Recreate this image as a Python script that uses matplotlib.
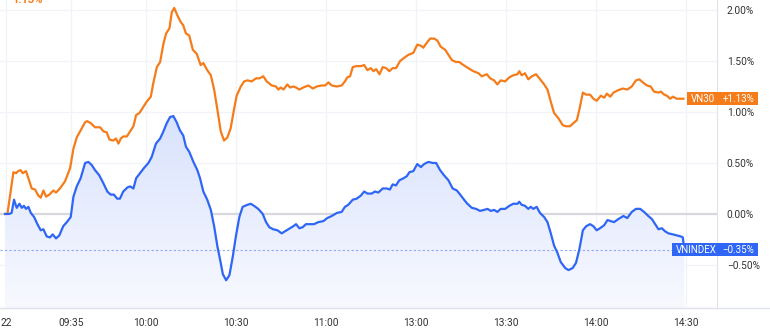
import numpy as np
import matplotlib
matplotlib.use("Agg")
import matplotlib.pyplot as plt
import matplotlib.transforms as mtransforms
from matplotlib.colors import LinearSegmentedColormap
from matplotlib.patches import Rectangle
from matplotlib.lines import Line2D

# x values are trading minutes since 09:15 (lunch break 11:30-13:00 removed)
vn30_t = [-2, -1.2, 0.8, 1.7, 2.4, 3.2, 3.9, 5.0, 5.8, 6.9,
          8.0, 9.1, 9.9, 10.8, 11.7, 12.8, 14.1, 15.0, 16.3, 18.0,
          19.7, 20.8, 21.9, 23.2, 24.7, 25.4, 26.6, 28.0, 29.7, 30.8,
          31.9, 32.8, 34.1, 35.0, 35.8, 36.6, 37.4, 38.6, 39.7, 40.8,
          41.7, 42.8, 43.9, 45.2, 46.6, 47.4, 48.6, 49.7, 50.8, 51.7,
          52.8, 53.6, 54.4, 55.4, 56.6, 57.4, 58.3, 59.4, 60.6, 61.9,
          63.2, 64.1, 65.4, 66.6, 67.7, 68.8, 69.9, 71.0, 72.1, 73.2,
          74.3, 75.2, 76.6, 77.7, 78.8, 80.2, 81.7, 82.8, 84.1, 85.2,
          86.9, 88.3, 89.1, 89.9, 90.8, 92.1, 93.0, 94.1, 95.0, 96.1,
          97.4, 99.1, 100.6, 101.9, 103.6, 104.7, 105.8, 106.9, 108.6, 110.2,
          111.3, 112.1, 113.0, 113.9, 115.2, 116.6, 117.7, 118.8, 119.9, 120.8,
          121.7, 122.8, 123.9, 125.0, 126.1, 127.2, 128.3, 129.7, 131.0, 132.4,
          134.1, 135.4, 136.6, 137.4, 138.6, 139.7, 141.0, 142.1, 143.2, 144.7,
          145.8, 146.9, 148.3, 149.4, 150.8, 152.4, 154.1, 155.8, 156.9, 158.6,
          159.7, 161.0, 162.1, 163.2, 164.7, 166.1, 167.4, 168.8, 169.4, 170.2,
          171.3, 172.4, 173.6, 175.0, 176.1, 177.7, 178.8, 179.9, 181.0, 182.4,
          183.9, 185.0, 186.3, 187.4, 188.6, 189.4, 190.6, 191.7, 193.0, 194.1,
          195.2, 196.6, 197.7, 198.6, 199.7, 200.8, 202.1, 203.9, 205.4, 206.9,
          208.3, 209.4, 210.6, 211.9, 213.2, 214.3, 215.8, 216.6, 217.7, 218.6,
          219.7, 220.6, 221.9, 223.6, 224.1]
vn30_pct = [0.00, 0.00, 0.41, 0.40, 0.42, 0.43, 0.40, 0.42, 0.35, 0.25,
            0.24, 0.18, 0.16, 0.23, 0.17, 0.19, 0.23, 0.21, 0.25, 0.32,
            0.45, 0.64, 0.75, 0.82, 0.90, 0.91, 0.89, 0.85, 0.85, 0.81,
            0.80, 0.73, 0.72, 0.74, 0.69, 0.74, 0.76, 0.76, 0.81, 0.86,
            0.97, 0.99, 1.04, 1.10, 1.15, 1.28, 1.44, 1.49, 1.67, 1.77,
            1.82, 1.98, 2.02, 1.95, 1.88, 1.85, 1.77, 1.75, 1.61, 1.57,
            1.46, 1.48, 1.41, 1.36, 1.22, 1.02, 0.81, 0.72, 0.75, 0.84,
            1.02, 1.16, 1.25, 1.30, 1.31, 1.30, 1.33, 1.33, 1.35, 1.30,
            1.26, 1.25, 1.22, 1.24, 1.22, 1.27, 1.24, 1.25, 1.24, 1.22,
            1.24, 1.26, 1.23, 1.25, 1.26, 1.26, 1.29, 1.26, 1.25, 1.26,
            1.30, 1.34, 1.35, 1.44, 1.45, 1.45, 1.46, 1.41, 1.43, 1.40,
            1.42, 1.37, 1.44, 1.43, 1.40, 1.43, 1.43, 1.50, 1.53, 1.56,
            1.58, 1.66, 1.65, 1.63, 1.68, 1.72, 1.72, 1.70, 1.64, 1.61,
            1.56, 1.51, 1.49, 1.49, 1.46, 1.43, 1.40, 1.38, 1.35, 1.37,
            1.33, 1.31, 1.27, 1.31, 1.30, 1.34, 1.36, 1.37, 1.40, 1.36,
            1.38, 1.32, 1.35, 1.37, 1.33, 1.27, 1.22, 1.10, 0.99, 0.94,
            0.87, 0.86, 0.86, 0.89, 0.92, 1.02, 1.19, 1.17, 1.17, 1.13,
            1.11, 1.16, 1.14, 1.18, 1.15, 1.19, 1.21, 1.23, 1.22, 1.25,
            1.31, 1.32, 1.29, 1.26, 1.25, 1.20, 1.19, 1.20, 1.17, 1.16,
            1.13, 1.15, 1.13, 1.13, 1.13]

vni_t = [-2, -0.6, 0.2, 1.0, 1.9, 2.8, 3.6, 4.3, 5.0, 5.8,
         6.6, 7.7, 8.8, 9.9, 10.8, 11.9, 13.0, 13.9, 15.0, 16.1,
         17.4, 18.6, 19.9, 20.8, 21.9, 23.2, 24.7, 25.8, 26.9, 28.0,
         29.4, 30.8, 32.1, 33.2, 34.3, 35.4, 36.3, 37.4, 38.8, 39.7,
         40.8, 41.7, 43.0, 44.3, 45.8, 46.9, 48.3, 49.7, 50.8, 51.9,
         53.0, 54.1, 55.2, 56.3, 57.4, 58.3, 59.4, 60.8, 62.1, 63.0,
         64.1, 65.4, 66.6, 67.7, 68.8, 69.7, 70.6, 71.7, 72.8, 73.9,
         75.0, 76.1, 77.2, 78.8, 79.9, 81.0, 82.4, 83.9, 85.0, 86.1,
         87.4, 88.8, 90.2, 91.3, 93.0, 94.1, 95.0, 96.1, 97.2, 98.3,
         99.7, 101.0, 102.4, 104.1, 105.4, 106.9, 108.6, 110.2, 111.3, 112.4,
         113.9, 115.2, 116.6, 117.7, 118.8, 120.2, 121.3, 122.4, 123.9, 125.2,
         126.3, 127.2, 128.3, 129.4, 130.8, 131.9, 132.8, 134.1, 135.4, 136.6,
         137.7, 139.1, 140.6, 141.7, 143.0, 144.3, 145.8, 147.2, 148.6, 149.7,
         151.0, 152.1, 153.6, 155.0, 156.3, 157.7, 158.8, 159.9, 161.0, 162.1,
         163.2, 164.7, 166.1, 167.4, 168.8, 169.4, 170.2, 171.3, 172.4, 173.2,
         174.1, 175.2, 176.3, 177.7, 178.8, 179.9, 181.0, 182.1, 183.2, 184.7,
         185.8, 187.2, 188.3, 189.4, 190.6, 191.7, 193.0, 194.1, 195.2, 196.3,
         197.7, 198.8, 199.9, 201.0, 202.4, 204.1, 205.4, 206.9, 208.3, 209.7,
         211.0, 212.4, 213.6, 214.7, 215.8, 216.9, 218.0, 219.1, 220.6, 221.9,
         223.2, 223.9, 224.3, 224.4]
vni_pct = [0.00, 0.00, 0.01, 0.14, 0.06, 0.10, 0.06, 0.08, 0.05, 0.07,
           0.01, -0.03, -0.10, -0.16, -0.15, -0.22, -0.23, -0.20, -0.24, -0.21,
           -0.12, -0.08, -0.03, 0.17, 0.27, 0.35, 0.50, 0.51, 0.48, 0.43,
           0.38, 0.30, 0.22, 0.19, 0.19, 0.15, 0.15, 0.22, 0.26, 0.27,
           0.25, 0.35, 0.40, 0.45, 0.50, 0.56, 0.69, 0.74, 0.81, 0.89,
           0.95, 0.96, 0.90, 0.82, 0.77, 0.66, 0.61, 0.51, 0.43, 0.35,
           0.22, 0.14, 0.04, -0.12, -0.32, -0.45, -0.59, -0.65, -0.60, -0.42,
           -0.21, -0.03, 0.07, 0.09, 0.10, 0.08, 0.05, 0.00, -0.08, -0.13,
           -0.15, -0.16, -0.19, -0.17, -0.14, -0.12, -0.10, -0.14, -0.13, -0.10,
           -0.10, -0.10, -0.08, -0.07, -0.04, -0.02, 0.01, 0.02, 0.07, 0.09,
           0.14, 0.15, 0.18, 0.22, 0.20, 0.20, 0.22, 0.21, 0.25, 0.25,
           0.24, 0.29, 0.28, 0.33, 0.35, 0.37, 0.41, 0.42, 0.49, 0.46,
           0.49, 0.51, 0.50, 0.50, 0.43, 0.38, 0.33, 0.25, 0.23, 0.19,
           0.14, 0.10, 0.06, 0.05, 0.03, 0.04, 0.05, 0.03, 0.04, 0.02,
           0.05, 0.05, 0.08, 0.10, 0.10, 0.12, 0.09, 0.08, 0.05, 0.07,
           0.05, 0.07, 0.01, -0.03, -0.08, -0.19, -0.31, -0.38, -0.47, -0.53,
           -0.55, -0.53, -0.48, -0.35, -0.16, -0.12, -0.10, -0.12, -0.16, -0.14,
           -0.11, -0.06, -0.07, -0.08, -0.05, -0.02, -0.04, 0.02, 0.05, 0.05,
           0.02, -0.02, -0.05, -0.10, -0.15, -0.14, -0.17, -0.19, -0.20, -0.21,
           -0.22, -0.23, -0.32, -0.35]

tick_minutes = [-1.7, 20, 45, 75, 105, 135, 165, 195, 225]
tick_labels = ["22", "09:35", "10:00", "10:30", "11:00", "13:00", "13:30", "14:00", "14:30"]
pct_ticks = [-0.5, 0.0, 0.5, 1.0, 1.5, 2.0]

vn30_last = 1.13
vni_last = -0.35

ORANGE = "#f57c1a"
BLUE = "#2f66f6"
GRID = "#f0f3fa"
TEXT = "#333333"

plt.rcParams["font.family"] = ["Roboto", "DejaVu Sans"]

fig = plt.figure(figsize=(7.7, 3.3), dpi=100)
ax = fig.add_axes([0.0, 22 / 330, 717 / 770, 308 / 330])

ymin, ymax = -0.922, 2.098
ax.set_xlim(-3.67, 235.3)
ax.set_ylim(ymin, ymax)

# grid
for m in tick_minutes:
    ax.axvline(m, color=GRID, lw=0.9, zorder=0)
for p in pct_ticks:
    if p == 0:
        ax.axhline(p, color="#d6d8de", lw=1.6, zorder=0.5)
    else:
        ax.axhline(p, color=GRID, lw=0.9, zorder=0)

# gradient area under VNINDEX
poly = ax.fill_between(vni_t, vni_pct, ymin, color="none", lw=0)
cmap = LinearSegmentedColormap.from_list("area", ["#f8f9ff", "#d8e2fd"])
grad = np.linspace(0, 1, 256).reshape(-1, 1)
im = ax.imshow(grad, extent=[vni_t[0], vni_t[-1], ymin, 1.0], aspect="auto",
               cmap=cmap, origin="lower", zorder=1, interpolation="bilinear")
im.set_clip_path(poly.get_paths()[0], ax.transData)

ax.plot(vn30_t, vn30_pct, color=ORANGE, lw=1.6, zorder=3, solid_joinstyle="round")
ax.plot(vni_t, vni_pct, color=BLUE, lw=1.6, zorder=3, solid_joinstyle="round")

# last value dotted line for VNINDEX
ax.axhline(vni_last, color="#8fa9f5", lw=0.8, ls=(0, (2, 2)), zorder=2)

ax.set_xticks(tick_minutes)
ax.set_xticklabels(tick_labels)
ax.set_yticks(pct_ticks)
ax.set_yticklabels([("−" if p < 0 else "") + "{:.2f}%".format(abs(p)) for p in pct_ticks])
ax.yaxis.tick_right()
ax.tick_params(axis="both", length=0, labelsize=7.3, colors=TEXT)
ax.tick_params(axis="x", pad=7)
ax.tick_params(axis="y", pad=7)
ax.grid(False)
for side in ["top", "left"]:
    ax.spines[side].set_visible(False)
ax.spines["right"].set_color("#e0e3eb")
ax.spines["bottom"].set_color("#e0e3eb")
fig.add_artist(Line2D([0, 1], [22 / 330, 22 / 330], color="#e0e3eb", lw=1.0,
                      transform=fig.transFigure))

# value badges on the price scale
trans = mtransforms.blended_transform_factory(fig.transFigure, ax.transData)
h = 0.13
ax.add_patch(Rectangle((687 / 770, vn30_last - h / 2), 71 / 770, h, transform=trans,
                       facecolor=ORANGE, edgecolor="none", clip_on=False, zorder=5))
ax.text(691 / 770, vn30_last, "VN30", transform=trans, color="white", fontsize=7,
        va="center", ha="left", clip_on=False, zorder=6)
ax.text(754 / 770, vn30_last, "+{:.2f}%".format(vn30_last), transform=trans, color="white",
        fontsize=7, va="center", ha="right", clip_on=False, zorder=6)

ax.add_patch(Rectangle((672 / 770, vni_last - h / 2), 86 / 770, h, transform=trans,
                       facecolor=BLUE, edgecolor="none", clip_on=False, zorder=5))
ax.text(676 / 770, vni_last, "VNINDEX", transform=trans, color="white", fontsize=7,
        va="center", ha="left", clip_on=False, zorder=6)
ax.text(754 / 770, vni_last, "−{:.2f}%".format(abs(vni_last)), transform=trans, color="white",
        fontsize=7, va="center", ha="right", clip_on=False, zorder=6)

# clipped legend value at top left
fig.text(12 / 770, 1.0, "{:.2f}%".format(vn30_last), color=ORANGE, fontsize=8,
         fontweight="bold", va="center", ha="left")

fig.savefig("out.png", dpi=100)
